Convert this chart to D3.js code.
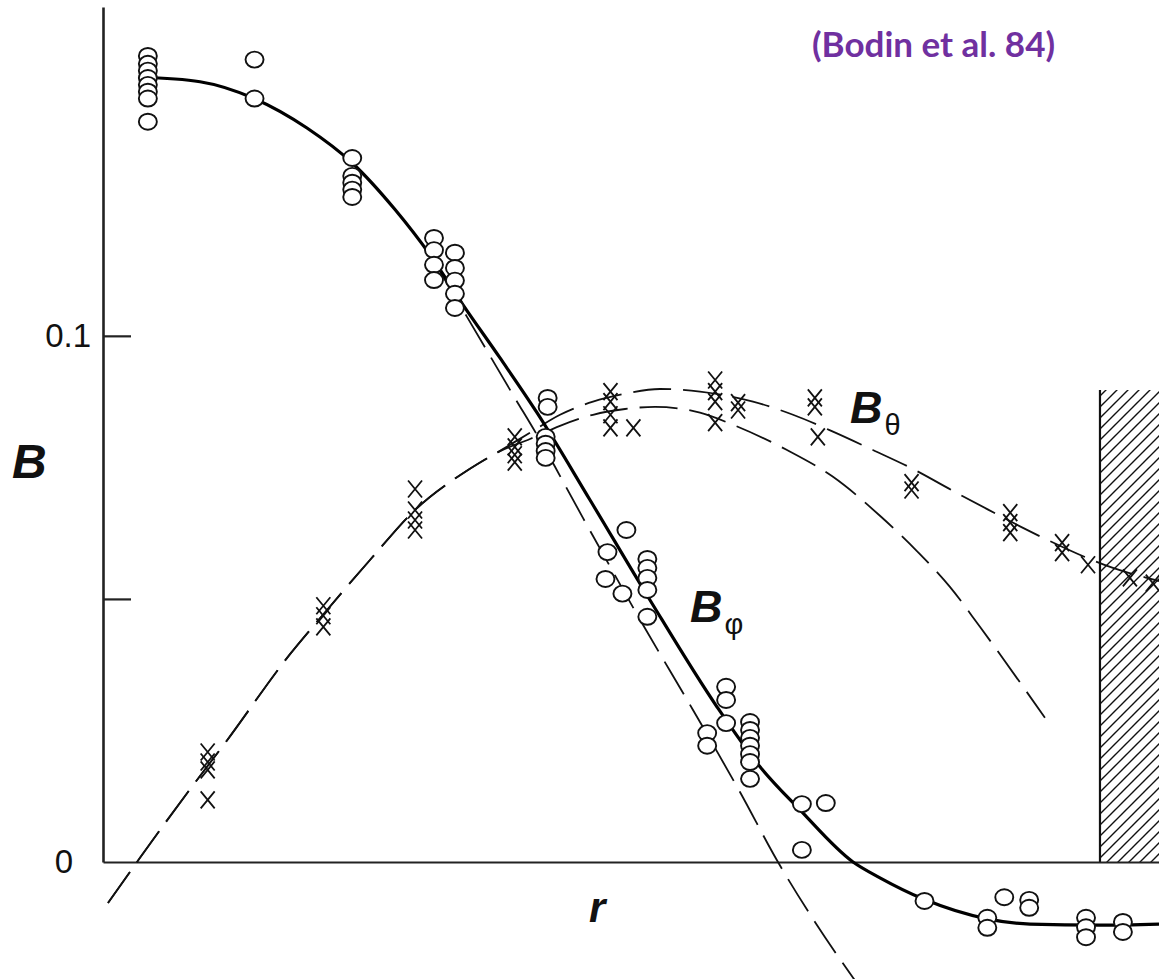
<!DOCTYPE html>
<html>
<head>
<meta charset="utf-8">
<script src="https://cdn.jsdelivr.net/npm/d3@7"></script>
<style>
  html, body { margin: 0; padding: 0; background: #fff; }
  svg { display: block; }
</style>
</head>
<body>
<script>
// Radial profiles of the magnetic field in a reversed-field pinch.
// r is normalised to the wall (r = 1); B in tesla.

// Toroidal field B_phi: measured points (open circles), [r, B]
const phiPoints = [
  [0.045, 0.1532], [0.045, 0.1517], [0.045, 0.1504], [0.045, 0.1490],
  [0.045, 0.1477], [0.045, 0.1464], [0.045, 0.1451], [0.045, 0.1407],
  [0.152, 0.1525], [0.152, 0.1451],
  [0.250, 0.1338], [0.250, 0.1304], [0.250, 0.1291], [0.250, 0.1278], [0.250, 0.1264],
  [0.332, 0.1186], [0.332, 0.1163], [0.332, 0.1135], [0.332, 0.1106],
  [0.353, 0.1158], [0.353, 0.1129], [0.353, 0.1105], [0.353, 0.1080], [0.353, 0.1053],
  [0.446, 0.0882], [0.446, 0.0865],
  [0.444, 0.0808], [0.444, 0.0795], [0.444, 0.0781], [0.444, 0.0768],
  [0.525, 0.0631], [0.506, 0.0589], [0.504, 0.0538], [0.521, 0.0510],
  [0.546, 0.0576], [0.546, 0.0559], [0.546, 0.0540], [0.546, 0.0517], [0.546, 0.0466],
  [0.625, 0.0333], [0.625, 0.0308], [0.625, 0.0264],
  [0.606, 0.0245], [0.606, 0.0221],
  [0.649, 0.0266], [0.649, 0.0251], [0.649, 0.0236], [0.649, 0.0221],
  [0.649, 0.0205], [0.649, 0.0190], [0.649, 0.0158],
  [0.701, 0.0110], [0.725, 0.0112], [0.701, 0.0023],
  [0.824, -0.0074], [0.904, -0.0067],
  [0.929, -0.0072], [0.929, -0.0087],
  [0.887, -0.0106], [0.887, -0.0125],
  [0.986, -0.0106], [0.986, -0.0124], [0.986, -0.0143],
  [1.023, -0.0114], [1.023, -0.0133]
];

// Poloidal field B_theta: measured points (crosses), [r, B]
const thetaPoints = [
  [0.105, 0.0209], [0.105, 0.0190], [0.105, 0.0175], [0.105, 0.0118],
  [0.221, 0.0487], [0.221, 0.0468], [0.221, 0.0447],
  [0.313, 0.0709], [0.313, 0.0669], [0.313, 0.0650], [0.313, 0.0631],
  [0.413, 0.0808], [0.413, 0.0789], [0.413, 0.0774], [0.413, 0.0760],
  [0.509, 0.0894], [0.509, 0.0875], [0.509, 0.0850], [0.509, 0.0825],
  [0.532, 0.0825],
  [0.614, 0.0916], [0.614, 0.0894], [0.614, 0.0875], [0.614, 0.0835],
  [0.637, 0.0873], [0.637, 0.0859],
  [0.714, 0.0882], [0.714, 0.0865], [0.717, 0.0808],
  [0.811, 0.0721], [0.811, 0.0707],
  [0.910, 0.0664], [0.910, 0.0645], [0.910, 0.0626],
  [0.962, 0.0607], [0.962, 0.0588],
  [0.988, 0.0565], [1.030, 0.0540], [1.053, 0.0530]
];

// B_phi fit (solid)
const phiFit = [
  [0.0371, 0.1492], [0.0973, 0.1483], [0.1505, 0.1452], [0.2046, 0.1395],
  [0.2497, 0.1329], [0.2929, 0.1240], [0.3280, 0.1154], [0.3611, 0.1059],
  [0.3982, 0.0958], [0.4353, 0.0854], [0.4885, 0.0688], [0.5486, 0.0498],
  [0.6158, 0.0295], [0.6590, 0.0181], [0.6991, 0.0099], [0.7523, 0.0000],
  [0.7793, -0.0030], [0.8225, -0.0070], [0.8867, -0.0108], [0.9298, -0.0118],
  [1.0000, -0.0120], [1.0592, -0.0118]
];

// B_phi model (dashed)
const phiModel = [
  [0.3380, 0.1122], [0.3651, 0.1036], [0.4112, 0.0888], [0.4383, 0.0802],
  [0.4814, 0.0654], [0.5416, 0.0451], [0.5918, 0.0289], [0.6389, 0.0133],
  [0.6770, 0.0000], [0.7141, -0.0114], [0.7553, -0.0228]
];

// B_theta fits (dashed): common inner part, then two branches
const thetaInner = [
  [0.0050, -0.0078], [0.0371, 0.0008], [0.0943, 0.0156], [0.1204, 0.0221],
  [0.1876, 0.0395], [0.2207, 0.0470], [0.2678, 0.0574], [0.3129, 0.0669],
  [0.3661, 0.0745], [0.3962, 0.0779]
];
const thetaUpper = [
  [0.4283, 0.0816], [0.4584, 0.0850], [0.4915, 0.0875], [0.5236, 0.0890],
  [0.5587, 0.0899], [0.5988, 0.0894], [0.6520, 0.0875], [0.6921, 0.0850],
  [0.7322, 0.0818], [0.7723, 0.0783], [0.8124, 0.0747], [0.8596, 0.0698],
  [0.8997, 0.0658], [0.9228, 0.0635], [0.9498, 0.0610], [0.9870, 0.0578],
  [1.0130, 0.0559], [1.0471, 0.0540], [1.0592, 0.0534]
];
const thetaLower = [
  [0.4283, 0.0804], [0.4584, 0.0829], [0.4915, 0.0850], [0.5236, 0.0861],
  [0.5537, 0.0865], [0.5988, 0.0854], [0.6319, 0.0831], [0.6861, 0.0783],
  [0.7322, 0.0732], [0.7793, 0.0658], [0.8164, 0.0591], [0.8495, 0.0523],
  [0.8796, 0.0447], [0.9448, 0.0274]
];

// Conducting wall position and drawn height of the shaded wall region
const wallR = 1.0;
const wallTop = 0.0897;

// Axis ticks
const yTickValues = [0, 0.05, 0.1];
const yTickLabels = ["0", "", "0.1"];

const W = 1159, H = 979;
const x = d3.scaleLinear().domain([0, 1.0592]).range([103, 1159]);
const y = d3.scaleLinear().domain([0, 0.1625]).range([862, 7]);

const svg = d3.select("body").append("svg")
  .attr("width", W).attr("height", H)
  .attr("viewBox", `0 0 ${W} ${H}`);

// Hatch pattern for the wall
const defs = svg.append("defs");
const pat = defs.append("pattern")
  .attr("id", "hatch")
  .attr("patternUnits", "userSpaceOnUse")
  .attr("width", 11).attr("height", 11);
pat.append("path")
  .attr("d", "M-2,13 L13,-2 M-2,2 L2,-2 M9,13 L13,9")
  .attr("stroke", "#111").attr("stroke-width", 1.4).attr("fill", "none");

svg.append("rect")
  .attr("x", x(wallR)).attr("y", y(wallTop))
  .attr("width", W - x(wallR)).attr("height", y(0) - y(wallTop))
  .attr("fill", "url(#hatch)");
svg.append("line")
  .attr("x1", x(wallR)).attr("x2", x(wallR))
  .attr("y1", y(wallTop)).attr("y2", y(0))
  .attr("stroke", "#111").attr("stroke-width", 2.2);

// Axes
const yAxis = d3.axisLeft(y)
  .tickValues(yTickValues)
  .tickFormat((d, i) => yTickLabels[i])
  .tickSize(-28).tickSizeOuter(0).tickPadding(12);
const gy = svg.append("g").attr("transform", `translate(${x(0)},0)`).call(yAxis);
gy.select(".domain").attr("stroke", "#222").attr("stroke-width", 2.6);
gy.selectAll(".tick line").attr("stroke", "#222").attr("stroke-width", 2.2);
gy.selectAll(".tick text")
  .attr("font-family", "Liberation Sans, Arial, sans-serif")
  .attr("font-size", 33).attr("fill", "#111");
gy.selectAll(".tick").filter(d => d === 0).select("line").remove();
gy.selectAll(".tick").filter(d => d === 0).select("text").attr("dx", -18);

const xAxis = d3.axisBottom(x).tickValues([]).tickSizeOuter(0);
const gx = svg.append("g").attr("transform", `translate(0,${y(0)})`).call(xAxis);
gx.select(".domain").attr("stroke", "#222").attr("stroke-width", 2.2);

// Curves
const line = d3.line().x(d => x(d[0])).y(d => y(d[1])).curve(d3.curveMonotoneX);

svg.append("path").datum(thetaInner.concat(thetaUpper))
  .attr("d", line).attr("fill", "none")
  .attr("stroke", "#111").attr("stroke-width", 1.8)
  .attr("stroke-dasharray", "38,12");
svg.append("path").datum(thetaInner.concat(thetaLower))
  .attr("d", line).attr("fill", "none")
  .attr("stroke", "#111").attr("stroke-width", 1.8)
  .attr("stroke-dasharray", "38,12");
svg.append("path").datum(phiModel)
  .attr("d", line).attr("fill", "none")
  .attr("stroke", "#111").attr("stroke-width", 1.8)
  .attr("stroke-dasharray", "38,12");
svg.append("path").datum(phiFit)
  .attr("d", line).attr("fill", "none")
  .attr("stroke", "#000").attr("stroke-width", 3.2);

// Markers
svg.append("g").selectAll("path").data(thetaPoints).join("path")
  .attr("transform", d => `translate(${x(d[0])},${y(d[1])})`)
  .attr("d", "M-7,-8.5 L7,8.5 M7,-8.5 L-7,8.5")
  .attr("stroke", "#111").attr("stroke-width", 1.8).attr("fill", "none");

svg.append("g").selectAll("ellipse").data(phiPoints).join("ellipse")
  .attr("cx", d => x(d[0])).attr("cy", d => y(d[1]))
  .attr("rx", 9).attr("ry", 8)
  .attr("fill", "#fff").attr("stroke", "#111").attr("stroke-width", 1.9);

// Labels
const lab = "Liberation Sans, Arial, sans-serif";
svg.append("text").attr("x", 12).attr("y", 478)
  .attr("font-family", lab).attr("font-weight", "bold").attr("font-style", "italic")
  .attr("font-size", 48).attr("fill", "#111").text("B");

svg.append("text").attr("x", 589).attr("y", 922)
  .attr("font-family", lab).attr("font-weight", "bold").attr("font-style", "italic")
  .attr("font-size", 42).attr("fill", "#111").text("r");

const bt = svg.append("text").attr("x", 850).attr("y", 423)
  .attr("font-family", lab).attr("fill", "#111");
bt.append("tspan").attr("font-weight", "bold").attr("font-style", "italic")
  .attr("font-size", 45).text("B");
bt.append("tspan").attr("font-size", 29).attr("dx", 2).attr("dy", 12).text("θ");

const bp = svg.append("text").attr("x", 690).attr("y", 622)
  .attr("font-family", lab).attr("fill", "#111");
bp.append("tspan").attr("font-weight", "bold").attr("font-style", "italic")
  .attr("font-size", 45).text("B");
bp.append("tspan").attr("font-size", 29).attr("dx", 2).attr("dy", 12).text("φ");

svg.append("text").attr("x", 812).attr("y", 57)
  .attr("font-family", "Lato, 'Open Sans', sans-serif").attr("font-weight", "bold")
  .attr("font-size", 35).attr("fill", "#7030A0")
  .text("(Bodin et al. 84)");
</script>
</body>
</html>
